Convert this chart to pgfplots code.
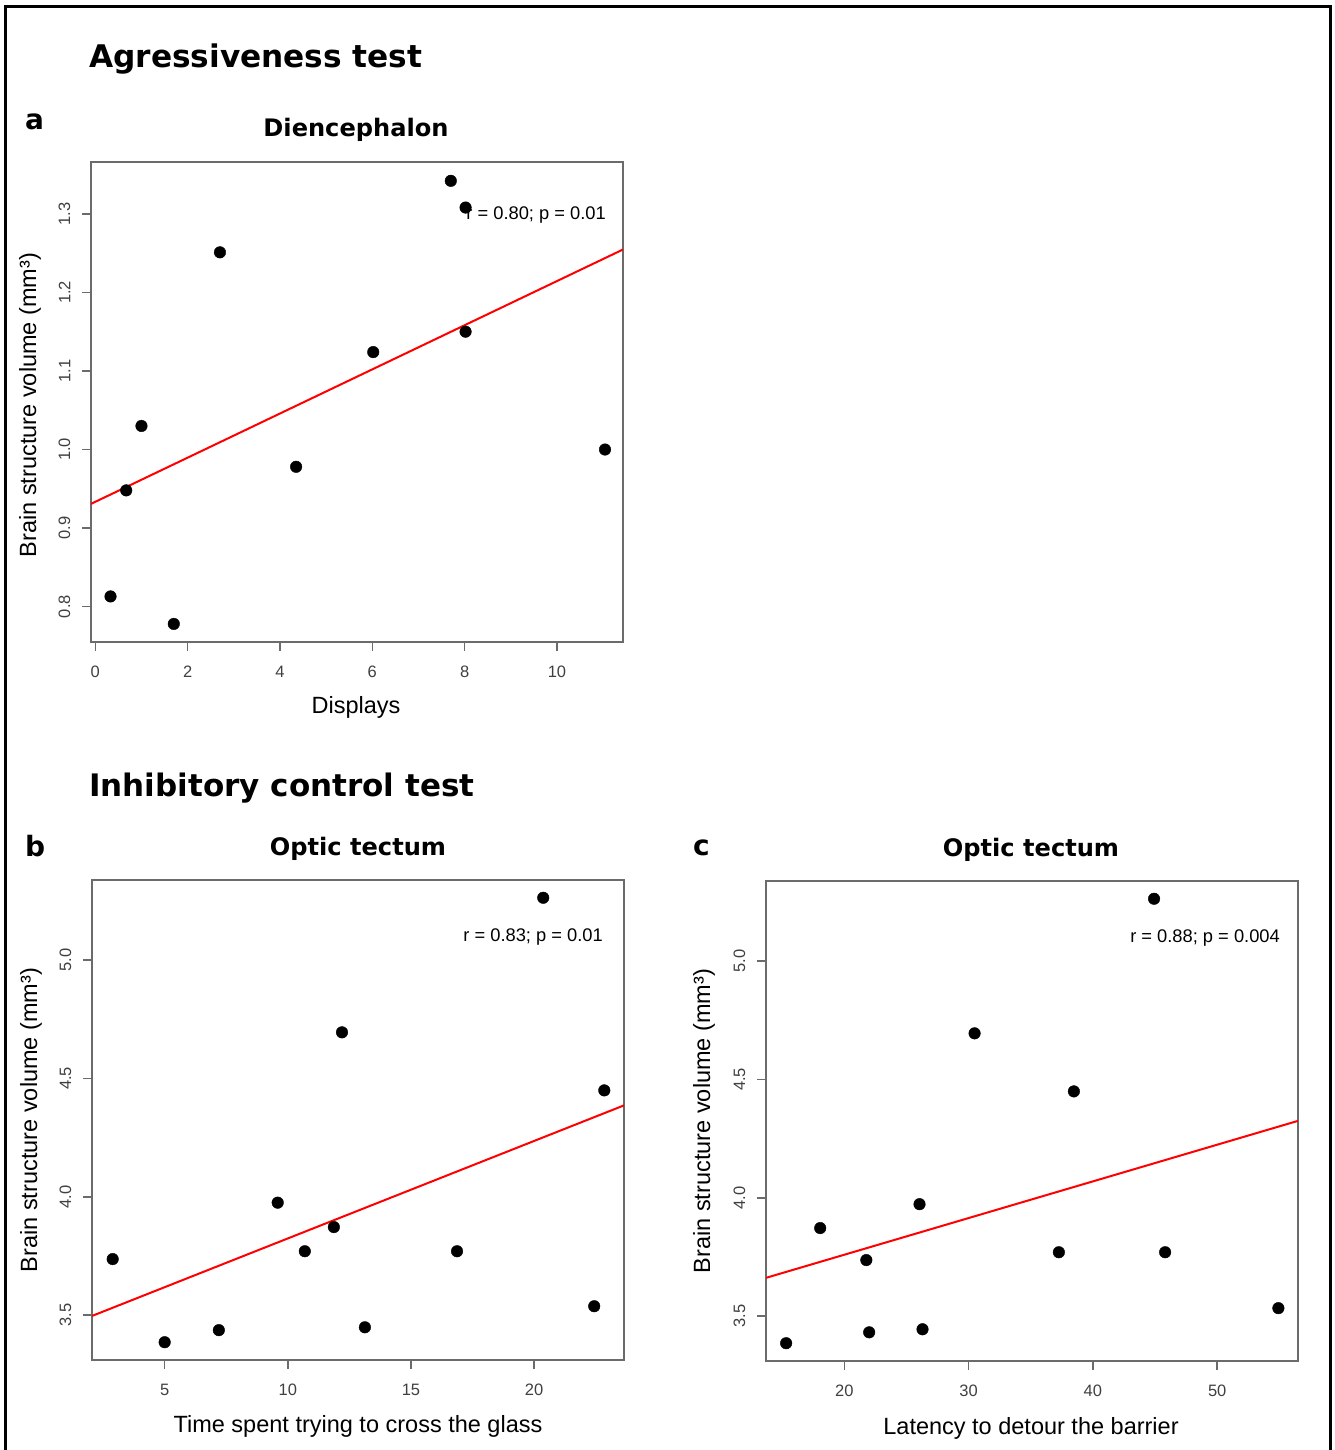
\documentclass[border=0pt]{standalone}
\usepackage{pgfplots}
\pgfplotsset{compat=1.18}
\usepackage{fontspec}
\setmainfont{Liberation Sans}
\newfontfamily\titlefont{DejaVu Sans}[BoldFont={DejaVu Sans Bold}]
\definecolor{axgray}{gray}{0.42}
\definecolor{tkgray}{gray}{0.25}

\pgfplotstableread{
x y
0.33 0.813
0.67 0.948
1.00 1.030
1.70 0.778
2.70 1.251
4.35 0.978
6.02 1.124
7.70 1.342
8.02 1.308
8.02 1.150
11.04 1.000
}\dataA

\pgfplotstableread{
x y
2.89 3.737
5.00 3.386
7.20 3.437
9.59 3.975
10.69 3.770
11.87 3.872
12.20 4.694
13.13 3.449
16.87 3.770
20.37 5.262
22.44 3.538
22.85 4.449
}\dataB

\pgfplotstableread{
x y
15.32 3.386
18.06 3.872
21.77 3.737
22.00 3.432
26.05 3.973
26.29 3.445
30.48 4.694
37.26 3.770
38.47 4.449
44.92 5.262
45.81 3.770
54.92 3.534
}\dataC

\pgfplotsset{rstyle/.style={
  scale only axis, width=532pt, height=480pt,
  axis line style={axgray, line width=1.5pt},
  every tick/.style={axgray, line width=1.5pt},
  tick align=outside, major tick length=9pt,
  xtick pos=left, ytick pos=left,
  /pgf/number format/assume math mode=true,
  tick label style={font=\fontsize{16.5}{18}\selectfont, text=tkgray},
  xticklabel style={anchor=north, inner sep=0pt},
  yticklabel style={rotate=90, anchor=south, inner sep=0pt},
  xticklabel shift=14.5pt,
  yticklabel shift=11.5pt,
  anchor=south west,
}}

\begin{document}
\begin{tikzpicture}[x=1pt,y=1pt]
\useasboundingbox (0,0) rectangle (1334,1450);
\draw[line width=3pt] (5.5,0) -- (5.5,1443) -- (1330,1443) -- (1330,0);

% Panel a
\begin{axis}[rstyle, at={(91pt,808pt)},
  xmin=-0.093, xmax=11.43, ymin=0.755, ymax=1.366,
  xtick={0,2,4,6,8,10}, ytick={0.8,0.9,1.0,1.1,1.2,1.3},
  yticklabel style={/pgf/number format/.cd, fixed, fixed zerofill, precision=1}]
  \addplot[red, line width=2pt] coordinates {(-0.093,0.9308) (11.43,1.2546)};
  \addplot[only marks, mark=*, mark size=5.8pt, black] table[x=x,y=y] {\dataA};
\end{axis}

% Panel b
\begin{axis}[rstyle, at={(92pt,90pt)},
  xmin=2.05, xmax=23.65, ymin=3.311, ymax=5.337,
  xtick={5,10,15,20}, ytick={3.5,4.0,4.5,5.0},
  yticklabel style={/pgf/number format/.cd, fixed, fixed zerofill, precision=1}]
  \addplot[red, line width=2pt] coordinates {(2.05,3.4969) (23.65,4.3857)};
  \addplot[only marks, mark=*, mark size=5.8pt, black] table[x=x,y=y] {\dataB};
\end{axis}

% Panel c
\begin{axis}[rstyle, at={(766pt,89pt)},
  xmin=13.7, xmax=56.5, ymin=3.311, ymax=5.337,
  xtick={20,30,40,50}, ytick={3.5,4.0,4.5,5.0},
  yticklabel style={/pgf/number format/.cd, fixed, fixed zerofill, precision=1}]
  \addplot[red, line width=2pt] coordinates {(13.7,3.662) (56.5,4.3246)};
  \addplot[only marks, mark=*, mark size=5.8pt, black] table[x=x,y=y] {\dataC};
\end{axis}

% Titles
\node[anchor=base west, inner sep=0pt, font=\titlefont\bfseries\fontsize{31.2}{34}\selectfont] at (89,1382) {Agressiveness test};
\node[anchor=base west, inner sep=0pt, font=\titlefont\bfseries\fontsize{31}{34}\selectfont] at (89,653) {Inhibitory control test};
\node[anchor=base west, inner sep=0pt, font=\titlefont\bfseries\fontsize{28}{32}\selectfont] at (25,1320) {a};
\node[anchor=base west, inner sep=0pt, font=\titlefont\bfseries\fontsize{28}{32}\selectfont] at (25,593) {b};
\node[anchor=base west, inner sep=0pt, font=\titlefont\bfseries\fontsize{28}{32}\selectfont] at (693,594) {c};
\node[anchor=base, inner sep=0pt, font=\titlefont\bfseries\fontsize{24.1}{28}\selectfont] at (356,1313) {Diencephalon};
\node[anchor=base, inner sep=0pt, font=\titlefont\bfseries\fontsize{24.1}{28}\selectfont] at (358,594) {Optic tectum};
\node[anchor=base, inner sep=0pt, font=\titlefont\bfseries\fontsize{24.1}{28}\selectfont] at (1031,593) {Optic tectum};

% Axis labels
\node[anchor=base, inner sep=0pt, font=\fontsize{23.5}{26}\selectfont] at (356,736) {Displays};
\node[anchor=base, inner sep=0pt, font=\fontsize{23.5}{26}\selectfont] at (358,17) {Time spent trying to cross the glass};
\node[anchor=base, inner sep=0pt, font=\fontsize{23.5}{26}\selectfont] at (1031,16) {Latency to detour the barrier};
\node[anchor=base, rotate=90, inner sep=0pt, font=\fontsize{23.5}{26}\selectfont] at (36,1045) {Brain structure volume (mm³)};
\node[anchor=base, rotate=90, inner sep=0pt, font=\fontsize{23.5}{26}\selectfont] at (37,330) {Brain structure volume (mm³)};
\node[anchor=base, rotate=90, inner sep=0pt, font=\fontsize{23.5}{26}\selectfont] at (710,329) {Brain structure volume (mm³)};

% Annotations
\node[anchor=base east, inner sep=0pt, font=\fontsize{18.3}{21}\selectfont] at (606,1230) {r = 0.80; p = 0.01};
\node[anchor=base east, inner sep=0pt, font=\fontsize{18.3}{21}\selectfont] at (603,508) {r = 0.83; p = 0.01};
\node[anchor=base east, inner sep=0pt, font=\fontsize{18.3}{21}\selectfont] at (1280,507) {r = 0.88; p = 0.004};
\end{tikzpicture}
\end{document}
